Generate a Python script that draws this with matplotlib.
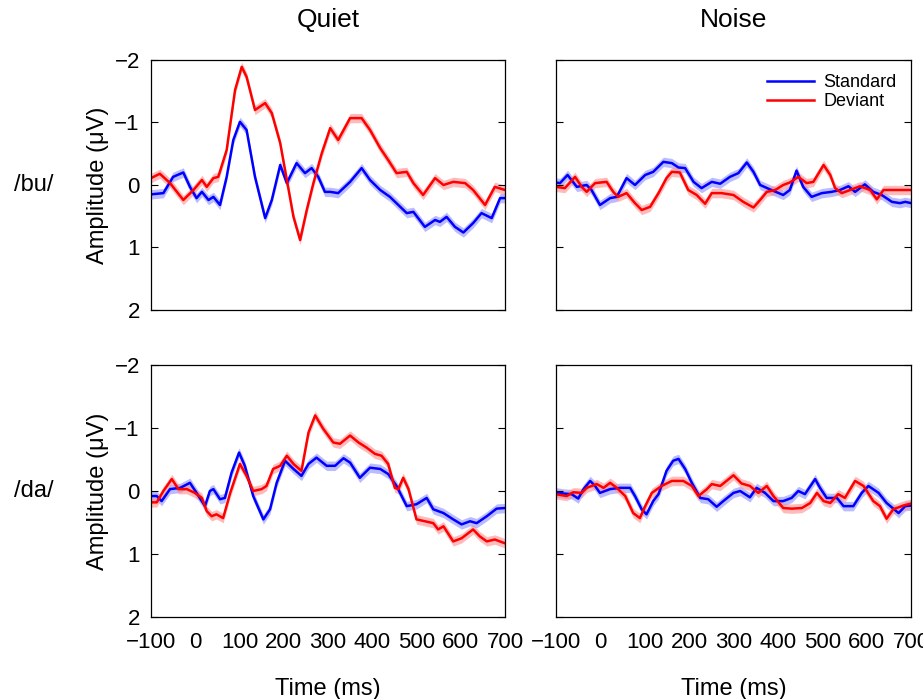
import matplotlib
matplotlib.use("Agg")
import matplotlib.pyplot as plt

plt.rcParams['font.family'] = ['Liberation Sans Narrow', 'Liberation Sans', 'DejaVu Sans']

# ---- data (time in ms, amplitude in uV) ----
# Quiet /bu/
qbu_std_t = [-100, -72, -50, -27, -12, 3, 15, 30, 41, 56, 71, 86, 101, 116, 135, 158, 173, 192,
             207, 229, 248, 263, 278, 293, 305, 323, 350, 376, 395, 418, 440, 459, 478, 493,
             519, 542, 553, 568, 587, 606, 628, 647, 670, 689, 700]
qbu_std_v = [0.15, 0.13, -0.13, -0.2, 0.03, 0.21, 0.11, 0.24, 0.19, 0.32, -0.13, -0.72, -1.01,
             -0.88, -0.13, 0.53, 0.24, -0.32, -0.03, -0.35, -0.19, -0.27, -0.13, 0.11, 0.11,
             0.13, -0.05, -0.27, -0.08, 0.08, 0.19, 0.32, 0.45, 0.43, 0.67, 0.56, 0.59, 0.51,
             0.67, 0.76, 0.61, 0.45, 0.53, 0.21, 0.21]
qbu_dev_t = [-100, -80, -57, -27, -4, 15, 26, 41, 52, 71, 90, 105, 116, 135, 158, 173, 192, 207,
             222, 237, 252, 267, 286, 305, 323, 350, 376, 395, 418, 436, 455, 478, 493, 515,
             542, 561, 583, 610, 628, 655, 677, 700]
qbu_dev_v = [-0.11, -0.18, -0.03, 0.24, 0.08, -0.08, 0.03, -0.11, -0.13, -0.56, -1.52, -1.89,
             -1.73, -1.2, -1.31, -1.15, -0.67, -0.08, 0.51, 0.88, 0.4, -0.03, -0.51, -0.91,
             -0.72, -1.07, -1.07, -0.88, -0.59, -0.4, -0.19, -0.21, -0.03, 0.16, -0.11, 0.0,
             -0.05, -0.03, 0.08, 0.32, 0.03, 0.08]

# Noise /bu/
nbu_std_t = [-100, -91, -74, -53, -31, -20, -1, 22, 37, 59, 78, 101, 119, 142, 161, 176, 191,
             210, 228, 251, 270, 292, 311, 330, 345, 360, 382, 412, 427, 442, 457, 476, 499,
             521, 540, 559, 574, 596, 615, 634, 657, 675, 687, 700]
nbu_std_v = [-0.04, -0.03, -0.16, 0.03, 0.0, 0.08, 0.32, 0.21, 0.19, -0.11, 0.0, -0.16, -0.21,
             -0.37, -0.35, -0.28, -0.27, -0.05, 0.05, -0.05, -0.02, -0.13, -0.19, -0.36, -0.21,
             0.0, 0.07, 0.16, 0.08, -0.23, 0.03, 0.19, 0.13, 0.11, 0.08, 0.02, 0.11, -0.01,
             0.11, 0.16, 0.27, 0.29, 0.27, 0.29]
nbu_dev_t = [-100, -80, -57, -42, -31, -12, 14, 29, 40, 59, 78, 93, 112, 131, 149, 161, 179, 198,
             217, 236, 251, 273, 300, 322, 345, 360, 375, 394, 412, 427, 446, 465, 480, 503,
             518, 529, 544, 563, 585, 608, 623, 638, 653, 675, 700]
nbu_dev_v = [0.03, 0.05, -0.13, 0.03, 0.11, -0.03, -0.05, 0.11, 0.19, 0.13, 0.29, 0.4, 0.35,
             0.13, -0.11, -0.21, -0.2, 0.08, 0.16, 0.3, 0.13, 0.13, 0.16, 0.27, 0.36, 0.24,
             0.11, 0.08, 0.0, -0.04, -0.13, -0.03, -0.05, -0.32, -0.16, 0.05, 0.13, 0.08, 0.02,
             0.08, 0.23, 0.08, 0.08, 0.08, 0.08]

# Quiet /da/
qda_std_t = [-100, -87, -76, -57, -34, -12, 3, 22, 33, 41, 56, 67, 82, 99, 112, 131, 154, 169,
             184, 203, 222, 240, 256, 274, 297, 316, 335, 350, 372, 395, 418, 436, 455, 478,
             500, 523, 538, 561, 583, 602, 621, 636, 659, 681, 700]
qda_std_v = [0.08, 0.08, 0.16, -0.03, -0.05, -0.13, 0.03, 0.24, 0.0, -0.03, 0.13, 0.11, -0.29,
             -0.61, -0.4, 0.08, 0.45, 0.29, -0.13, -0.48, -0.35, -0.24, -0.43, -0.53, -0.4,
             -0.4, -0.52, -0.45, -0.21, -0.37, -0.35, -0.27, -0.08, 0.24, 0.21, 0.11, 0.29,
             0.35, 0.45, 0.53, 0.48, 0.51, 0.4, 0.28, 0.27]
qda_dev_t = [-100, -87, -72, -53, -38, -19, -1, 15, 26, 37, 48, 63, 79, 101, 116, 131, 150, 161,
             176, 192, 207, 222, 240, 256, 271, 289, 312, 327, 350, 369, 387, 406, 421, 436,
             451, 459, 470, 482, 500, 519, 538, 549, 561, 583, 602, 628, 643, 659, 677, 700]
qda_dev_v = [0.18, 0.18, 0.0, -0.19, -0.03, -0.03, 0.03, 0.11, 0.32, 0.4, 0.37, 0.43, 0.03,
             -0.43, -0.24, 0.0, -0.03, -0.08, -0.35, -0.4, -0.56, -0.43, -0.32, -0.93, -1.2,
             -0.99, -0.77, -0.75, -0.88, -0.77, -0.69, -0.59, -0.56, -0.43, -0.05, -0.03,
             -0.21, -0.03, 0.45, 0.48, 0.51, 0.61, 0.56, 0.8, 0.75, 0.61, 0.72, 0.8, 0.77, 0.83]

# Noise /da/
nda_std_t = [-100, -83, -65, -50, -38, -23, -12, -1, 22, 44, 67, 78, 93, 104, 119, 131, 149, 164,
             176, 191, 206, 225, 243, 262, 277, 300, 315, 337, 352, 371, 390, 412, 431, 446,
             461, 484, 495, 510, 533, 548, 570, 589, 604, 627, 645, 672, 687, 700]
nda_std_v = [0.02, 0.04, 0.05, 0.12, -0.03, -0.16, -0.08, 0.03, -0.03, -0.05, -0.05, 0.08, 0.29,
             0.37, 0.16, 0.05, -0.32, -0.48, -0.51, -0.35, -0.13, 0.11, 0.13, 0.25, 0.16, 0.03,
             0.0, 0.1, -0.05, 0.03, 0.16, 0.16, 0.11, 0.0, 0.05, -0.19, -0.05, 0.11, 0.11, 0.24,
             0.24, 0.03, -0.08, 0.03, 0.19, 0.35, 0.24, 0.23]
nda_dev_t = [-100, -76, -61, -42, -31, -8, 7, 22, 37, 56, 74, 89, 101, 116, 138, 161, 187, 206,
             221, 240, 251, 270, 300, 318, 337, 356, 375, 390, 412, 431, 454, 473, 488, 503,
             518, 536, 551, 574, 593, 615, 630, 645, 660, 683, 700]
nda_dev_v = [0.05, 0.08, 0.02, 0.03, -0.05, -0.11, -0.05, -0.13, -0.05, 0.08, 0.35, 0.43, 0.24,
             0.03, -0.08, -0.16, -0.16, -0.08, 0.08, -0.03, -0.11, -0.08, -0.25, -0.12, -0.08,
             0.03, -0.08, 0.08, 0.27, 0.28, 0.27, 0.19, 0.03, 0.16, 0.19, 0.05, 0.11, -0.16,
             -0.08, 0.16, 0.24, 0.44, 0.29, 0.23, 0.2]

band = 0.075  # half width of the shaded error band

col_titles = ['Quiet', 'Noise']
row_labels = ['/bu/', '/da/']
legend_labels = ['Standard', 'Deviant']

panels = [
    [(qbu_std_t, qbu_std_v, qbu_dev_t, qbu_dev_v), (nbu_std_t, nbu_std_v, nbu_dev_t, nbu_dev_v)],
    [(qda_std_t, qda_std_v, qda_dev_t, qda_dev_v), (nda_std_t, nda_std_v, nda_dev_t, nda_dev_v)],
]

fig = plt.figure(figsize=(9.23, 6.99), dpi=100)
lefts = [0.1636, 0.6024]
widths = [0.3835, 0.3846]
bottoms = [0.5565, 0.1173]
heights = [0.3577, 0.3605]

handles = None
for r in range(2):
    for c in range(2):
        ax = fig.add_axes([lefts[c], bottoms[r], widths[c], heights[r]])
        st, sv, dt, dv = panels[r][c]
        ax.fill_between(st, [v - band for v in sv], [v + band for v in sv],
                        color='#8f8fff', alpha=0.6, lw=0)
        ax.fill_between(dt, [v - band for v in dv], [v + band for v in dv],
                        color='#ff8f8f', alpha=0.6, lw=0)
        l1, = ax.plot(st, sv, color='#0000ff', lw=1.8, solid_joinstyle='round')
        l2, = ax.plot(dt, dv, color='#ff0000', lw=1.8, solid_joinstyle='round')
        if r == 0 and c == 1:
            handles = [l1, l2]
        ax.set_xlim(-100, 700)
        ax.set_ylim(2, -2)
        ax.set_yticks([-2, -1, 0, 1, 2])
        ax.set_xticks(range(-100, 701, 100))
        ax.set_xticks([0, 200, 400, 600], minor=True)
        ax.tick_params(axis='x', which='major', length=0, labelsize=16, pad=11)
        ax.tick_params(axis='x', which='minor', direction='in', length=5, top=True, bottom=True,
                       width=0.8)
        ax.tick_params(axis='y', direction='in', length=5, left=True, right=True,
                       labelsize=16, width=0.8, pad=8)
        for sp in ax.spines.values():
            sp.set_linewidth(0.9)
        if r == 0:
            ax.tick_params(axis='x', labelbottom=False)
            ax.set_title(col_titles[c], fontsize=19, pad=24)
        else:
            ax.set_xlabel('Time (ms)', fontsize=17, labelpad=18)
            ax.set_xticklabels([str(x).replace('-', '\u2212') for x in range(-100, 701, 100)])
        if c == 0:
            ax.set_ylabel('Amplitude (\u03bcV)', fontsize=17, labelpad=4)
            ax.set_yticklabels(['\u22122', '\u22121', '0', '1', '2'])
            ax.text(-0.33, 0.5, row_labels[r], transform=ax.transAxes, fontsize=17,
                    ha='center', va='center')
        else:
            ax.tick_params(axis='y', labelleft=False)

fig.axes[1].legend(handles, legend_labels, loc='upper right', frameon=False, fontsize=13,
                   handlelength=2.6, borderaxespad=0.4, labelspacing=0.1, handletextpad=0.5)

fig.savefig('out.png', dpi=100)
